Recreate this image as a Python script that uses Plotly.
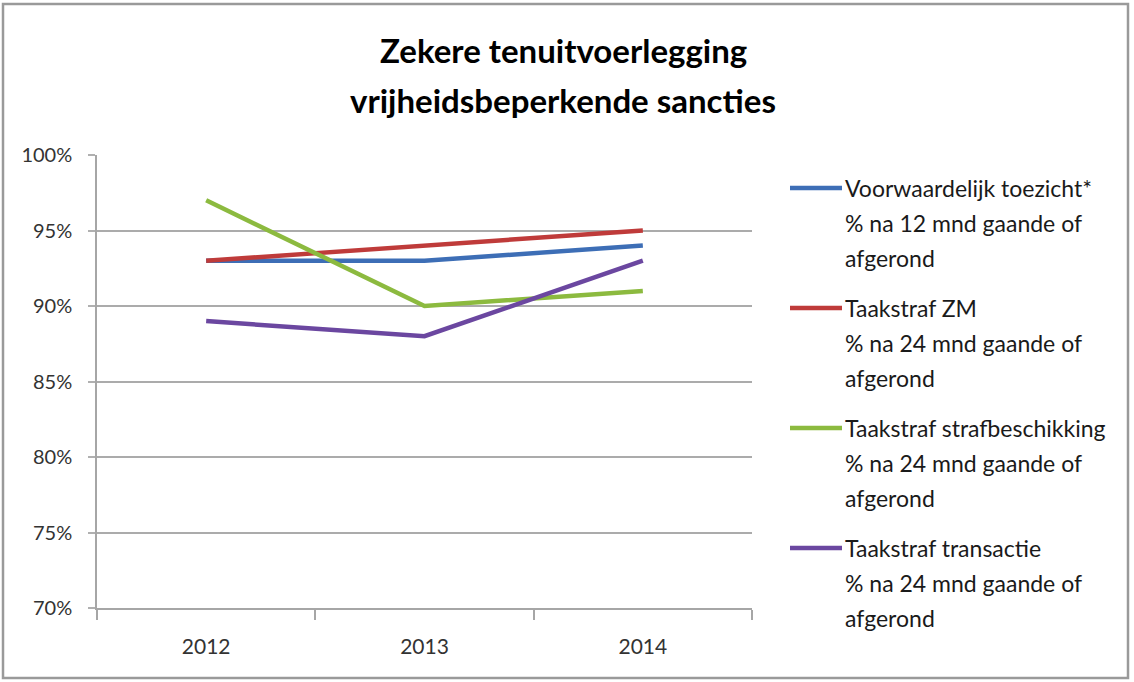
import plotly.graph_objects as go

# ---- data ----
years = ["2012", "2013", "2014"]
series_names = [
    "Voorwaardelijk toezicht*",
    "Taakstraf ZM",
    "Taakstraf strafbeschikking",
    "Taakstraf transactie",
]
series_subtitles = [
    ["% na 12 mnd gaande of", "afgerond"],
    ["% na 24 mnd gaande of", "afgerond"],
    ["% na 24 mnd gaande of", "afgerond"],
    ["% na 24 mnd gaande of", "afgerond"],
]
voorwaardelijk_toezicht = [0.93, 0.93, 0.94]
taakstraf_zm = [0.93, 0.94, 0.95]
taakstraf_strafbeschikking = [0.97, 0.90, 0.91]
taakstraf_transactie = [0.89, 0.88, 0.93]
series_values = [voorwaardelijk_toezicht, taakstraf_zm,
                 taakstraf_strafbeschikking, taakstraf_transactie]
y_ticks = [0.70, 0.75, 0.80, 0.85, 0.90, 0.95, 1.00]
title_lines = ["Zekere tenuitvoerlegging", "vrijheidsbeperkende sancties"]

colors = ["#3D6EB6", "#BF3B3A", "#8CBA3F", "#6B47A0"]

W, H = 1134, 682
L, R, T, B = 97, 752, 155, 608  # plot area in pixels


def px(x):
    return (x - L) / (R - L)


def py(y):
    return (B - y) / (B - T)


FONT = "Lato, 'Open Sans', sans-serif"

fig = go.Figure()
for name, vals, col in zip(series_names, series_values, colors):
    fig.add_trace(go.Scatter(
        x=years, y=vals, mode="lines", name=name,
        line=dict(color=col, width=4.5), showlegend=False,
    ))

shapes = []
annotations = []

# outer chart border
shapes.append(dict(type="rect", xref="paper", yref="paper",
                   x0=px(3), x1=px(1128), y0=py(678), y1=py(4),
                   line=dict(color="#9A9A9A", width=2.5), layer="below"))

# title
for i, t in enumerate(title_lines):
    annotations.append(dict(text="<b>%s</b>" % t, xref="paper", yref="paper",
                            x=px(563), y=py(50 + 50 * i), xanchor="center",
                            yanchor="middle", showarrow=False,
                            font=dict(family=FONT, size=33, color="#000000")))

# manual legend
for i, (name, sub, col) in enumerate(zip(series_names, series_subtitles, colors)):
    y0 = 188 + 120 * i
    shapes.append(dict(type="line", xref="paper", yref="paper",
                       x0=px(790), x1=px(842), y0=py(y0), y1=py(y0),
                       line=dict(color=col, width=4.5)))
    for j, txt in enumerate([name] + sub):
        annotations.append(dict(text=txt, xref="paper", yref="paper",
                                x=px(843), y=py(y0 + 35 * j), xanchor="left",
                                yanchor="middle", showarrow=False,
                                font=dict(family=FONT, size=23, color="#1a1a1a")))

fig.update_layout(
    width=W, height=H,
    margin=dict(l=L, r=W - R, t=T, b=H - B),
    paper_bgcolor="white", plot_bgcolor="white",
    shapes=shapes, annotations=annotations,
    font=dict(family=FONT, size=20, color="#333333"),
    xaxis=dict(
        type="category", range=[-0.5, 2.5], tickson="boundaries",
        ticks="outside", ticklen=10, tickwidth=1.5, tickcolor="#A6A6A6",
        showgrid=False, showline=True, linecolor="#A6A6A6", linewidth=1.5,
        tickfont=dict(family=FONT, size=21, color="#333333"),
        ticklabelstandoff=19,
        zeroline=False,
    ),
    yaxis=dict(
        range=[0.70, 1.00], tickvals=y_ticks, tickformat=".0%",
        ticks="outside", ticklen=7, tickwidth=2, tickcolor="#B0B0B0",
        showgrid=True, gridcolor="#ABABAB", gridwidth=2,
        showline=True, linecolor="#A6A6A6", linewidth=1.5,
        tickfont=dict(family=FONT, size=20, color="#333333"),
        ticklabelstandoff=12,
        zeroline=False,
    ),
)

fig.write_html("out.html", config={"displayModeBar": False},
               post_script="document.body.style.margin='0';document.body.style.overflow='hidden';")
